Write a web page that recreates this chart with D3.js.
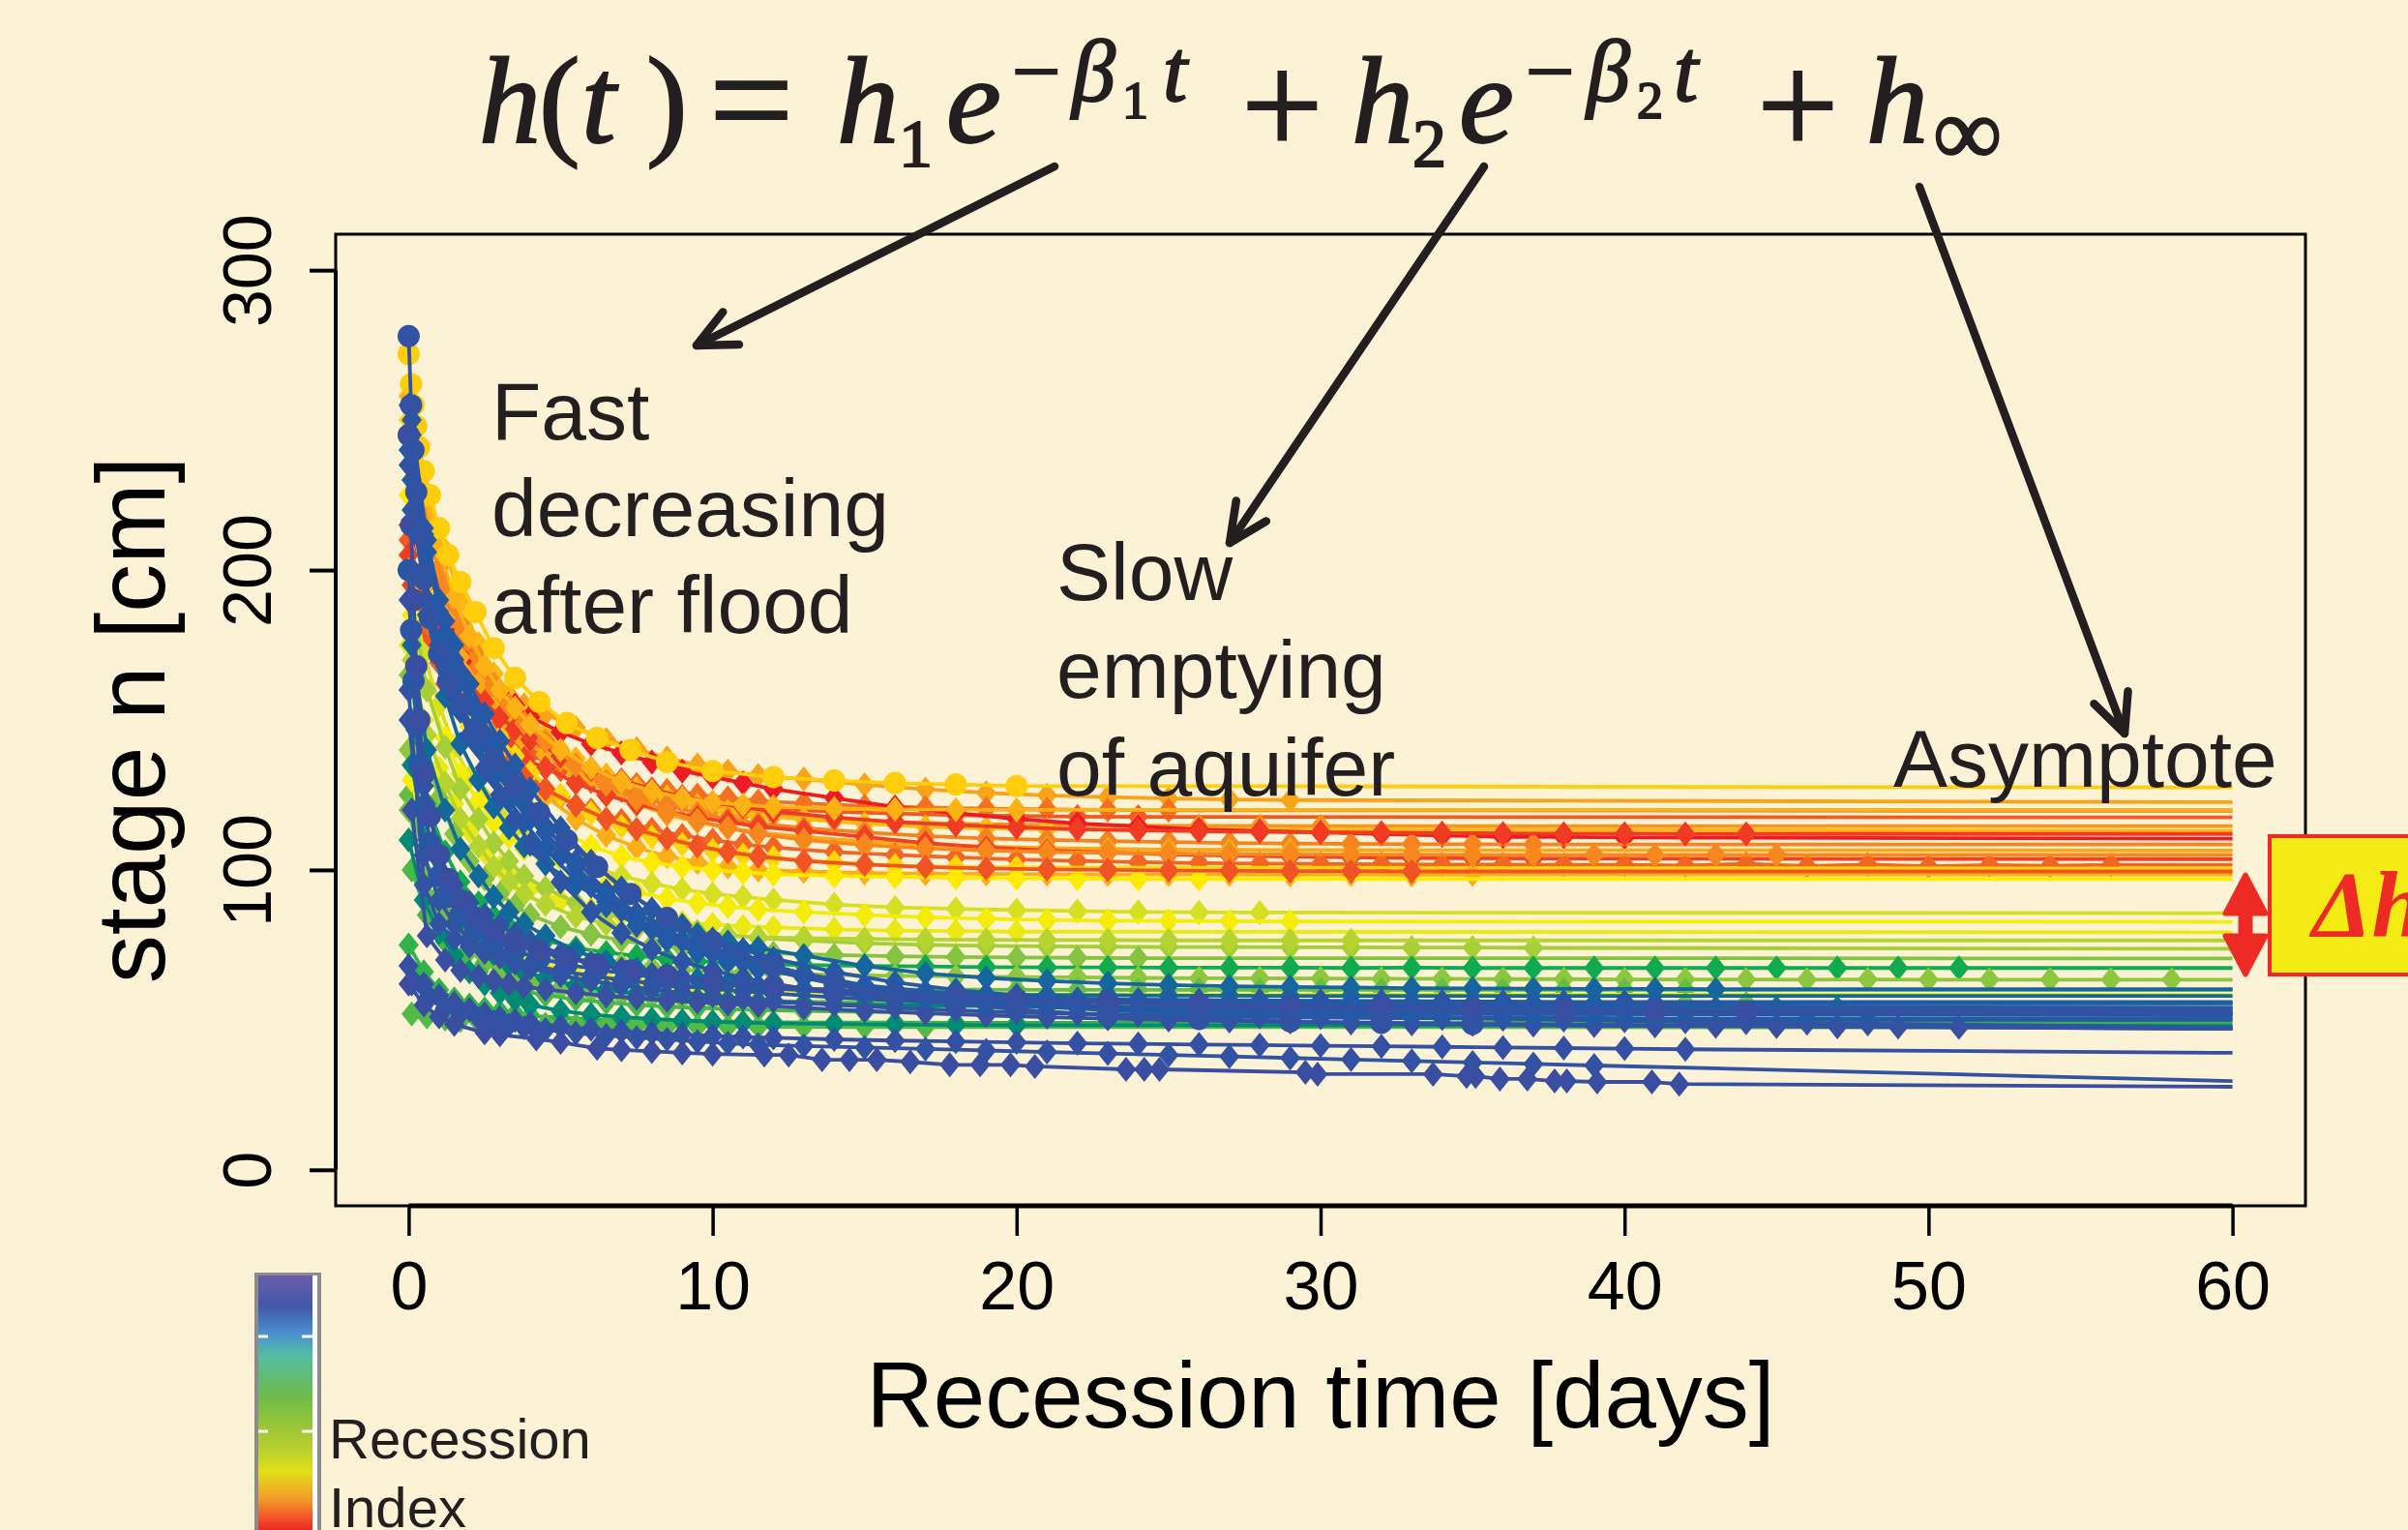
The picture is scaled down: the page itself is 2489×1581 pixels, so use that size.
<!DOCTYPE html>
<html>
<head>
<meta charset="utf-8">
<script src="https://cdn.jsdelivr.net/npm/d3@7"></script>
<style>
  html, body { margin: 0; padding: 0; background: #fcf2d5; }
  svg { display: block; }
</style>
</head>
<body>
<svg id="chart" width="2489" height="1581"></svg>
<script>
// ---------- observation times (days since flood peak) ----------
const dayGridA = [0,0.5,1,1.5,2,2.5,3,3.5,4,5,6,7,8,9,10,11,12,14,16,18,20,22,24,26,28,30,32,34,36,38,40,42,44,46,48,50,52,54,56,58];
const dayGridB = [0.1,0.6,1.2,1.7,2.3,2.8,3.3,3.8,4.5,5.5,6.5,7.5,8.5,9.5,10.5,11.5,13,15,17,19,21,23,25,27,29,31,33,35,37,39,41,43,45,47,49,51,53,55,57,59];
const dayGridC = [0,0.08,0.16,0.25,0.35,0.5,0.7,1,1.3,1.7,2.2,2.8,3.5,4.3,5.2,6.2,7.3,8.5,10,12,14,16,18,20,23,26,29,32,35,38,41,44,47,50,53,56,59];
const dayGridD = [0,0.5,1,1.5,2.5,3,4.2,5,6.2,7,8,9,10,11.7,12.5,13.6,14.5,15.4,16.5,17.8,18.8,19.8,20.6,23.6,24.2,24.7,29.5,29.9,33.7,34.8,35.1,35.9,36.8,37.7,38.1,39.1,40.9,41.8];

// ---------- recession events ----------
// recession index of each event (0 = red end, 1 = blue end of the colour bar)
const recessionIndex = [
  0.24, 0.14, 0.10, 0.20, 0.30, 0.00, 0.17, 0.25, 0.06, 0.12, 0.34, 0.27, 0.37, 0.05, 0.18, 0.28, 0.09, 0.33,
  0.46, 0.40, 0.42, 0.52, 0.50, 0.56, 0.70, 0.55, 0.60, 0.40, 0.58, 0.63, 0.66, 0.62,
  0.80, 0.78,
  0.86, 0.85, 0.95, 0.96, 0.97, 0.99, 0.98, 0.97, 1.00, 0.91, 0.94, 0.90, 0.95, 0.90, 0.92, 0.93, 1.00, 0.97
];
// which time grid each event was sampled on
const gridOfSeries = [
  "B","B","A","A","B","A","B","B","B","A","A","B","A","A","B","A","B","C",
  "A","B","A","B","B","A","B","A","A","B","A","B","A","B",
  "B","A",
  "B","B","A","A","A","B","A","B","D","A","B","B","A","B","A","C","C","C"
];
// observed stage [cm]
const stageObs = [
  [200,188.4,179.9,172.9,166.7,162.1,158.2,155.1,152,147.4,143.5,140.4,137.3,135,133,131.5,130.3,128.4,126.9,125.7,124.9,124.3,123.8,123.5,123.3],
  [230,205,188,175,165,157,151,146,141,135.5,131.5,128.5,126.5,125,124,123,122.2,121.3,120.8,120.4,120.2,120,119.9],
  [210,190,176,165,157,151,146,142,138.5,133.5,129.5,126.5,124.5,123,122,121,120.3,119.4,118.8,118.3,118,117.8,117.7],
  [245,217.6,200.7,185,172,162.8,155,149.8,144.6,136.8,131.6,127.6,125,122.4,120.5,119.2,118.3,116.8,115.9,115.4,115.1,114.9,114.8,114.7,114.7,114.6],
  [255,225,206.7,189.7,175.5,165.5,157,151.3,145.7,137.1,131.5,127.2,124.4,121.5,119.4,118,117,115.4,114.4,113.9,113.6],
  [215,200,188,178,170,164,159,155,151,146,142,139,136,133,131,129,127,124,121,119,117,115.5,114.5,113.5,113,112.5,112,111.5,111,111,110.8],
  [225,205,190,178,168,160,153,147,142,135,129.5,125,121.5,119,117,115.5,114,112.5,111.3,110.5,110,109.6,109.3,109,108.8,108.7,108.6,108.6,108.5],
  [215,196,182,171,162,154,148,143,138.5,132,126.5,122,118.5,116,114,112.5,111,109.5,108.5,107.8,107.3,107,106.8,106.7,106.6],
  [195,180,168,159,152,146,141,137,134,129,125,122,119.5,117.5,116,114.5,113,111,109,107.5,106.5,105.8,105.2,104.8,104.5,104.2,104,103.9,103.8],
  [200,182,169,158,150,143,138,134,130,124.5,120,116.5,113.5,111.5,110,108.5,107.5,106,105,104.2,103.5,103,102.6,102.3,102.1,102,101.9,101.8,101.8,101.7,101.7,101.5,102,101.3,101.8,101.2,101.6,101.4,101.7],
  [250,214,192,175,162,152,144,138,132.5,125,119,114.5,111,108.5,106.5,105,104,102.5,101.5,101,100.8],
  [240,206,184,167,154,144,136,130,124.5,117,111.5,107.5,104.5,102.5,101,100,99.5,99,98.8,98.7,98.6,98.5,98.5,98.5,98.4,98.5,98.4,98.5],
  [225,195,175,160,148,139,131,125,120,113,108,104.5,102.5,101,100,99.2,98.6,98,97.7,97.4,97.2,97.1,97,97],
  [205,190,178,169,162,156,151,147,143.5,138,133.5,130,127,124.5,122.5,121,119.5,117.5,116,115,114.2,113.6,113.2,112.9,112.7,112.5,112.4,112.3,112.2,112.1,112.1,112,112],
  [235,212,195,182,171,162,155,149,143,135,128.5,123.5,119.5,116.5,114,112,110,108.3,107.2,106.5,106,105.7,105.5,105.3,105.2,105.1,105.1,105,105,105,105,105,105],
  [258,226,207,191,178,168,160,154,148.5,140,134,129.5,126.3,124,122.6,121.7,121.1,120.5,120.2,120.1,120],
  [190,174,162,153,146,140,135,131,127,121.5,117,113.5,110.5,108,106,104.5,103,101.8,101,100.5,100.2,100,99.8,99.7,99.6,99.6,99.5],
  [272,262,255,248,241,233,225,214,205,196,186,174,164,156,149,144,140,136,133,131,129.8,129,128.5,128],
  [200,172,155,141,131,124,118,114,110,105,101,98,95.5,93.5,92,91,90,88.5,87.5,87,86.6,86.3,86,85.9,85.8],
  [185,160,144,132,123,116,111,107,103.5,98.5,95,92.5,90.5,89,87.8,86.8,86,85,84.2,83.7,83.3,83.1,83,82.9,82.8],
  [175,150,134,122,113,106,101,97,94,90,87,85,83.5,82.5,81.8,81.2,80.8,80.2,79.8,79.6,79.4],
  [190,160,141,127,117,109,103,98,94,89,85.5,83,81,79.5,78.3,77.3,76.5,75.6,75,74.7,74.5,74.4,74.3,74.3,74.2,74.2,74.1,74.1,74],
  [170,145,129,117,108,101,96,92,88.5,84.5,82,80.3,79.2,78.5,78,77.6,77.3,77,76.8,76.7,76.6,76.6,76.5,76.5,76.5,76.5],
  [165,140,124,112,103,97,92,88,85,81,78.5,76.5,75,74,73.2,72.6,72.2,71.6,71.2,71,70.8,70.7,70.6],
  [150,122,106,96,89,84.5,81,78.5,76.5,74,72.5,71.3,70.4,69.6,69,68.6,68.3,68,67.8,67.6,67.5,67.5,67.4,67.4,67.4,67.3,67.4,67.3,67.3,67.3,67.3,67.3,67.3,67.3,67.3,67.3],
  [140,118,104,95,88,83,79,76,74,71,69.5,68.3,67.4,66.7,66.2,65.8,65.5,65,64.7,64.5,64.3,64.2,64,63.9,63.9,63.8,63.7,63.7,63.6,63.6,63.5,63.5,63.5,63.4,63.5,63.4,63.4,63.4,63.4,63.4],
  [125,105,92,84,78.5,74.5,71.5,69,67,64.5,63,62,61.3,60.9,60.6,60.4,60.3,60.2,60.1,60.1,60,60,60,60,60,60,60,60,60,60,60,60],
  [130,108,95,86,80,75.5,72,69.5,67.5,65,63.5,62.3,61.3,60.5,60,59.6,59.3,59,58.8,58.6,58.5],
  [120,98,86,78,73,69,66,64,62.5,60.5,59.2,58.3,57.7,57.2,56.8,56.5,56.3,56,55.9,55.8,55.7,55.6,55.6,55.5,55.6,55.5,55.5,55.5,55.5,55.5,55.5,55.5,55.5],
  [100,85,76,70,66,63,61,59.5,58.3,56.8,55.8,55,54.4,54,53.6,53.3,53,52.7,52.5,52.3,52.2,52.1,52.1,52],
  [75,66,60,57,55,53.7,52.7,52,51.4,50.7,50.2,49.9,49.7,49.5,49.4,49.3,49.2,49.1,49.1,49,49],
  [52,51,50.3,49.8,49.4,49.1,48.9,48.7,48.5,48.3,48.1,48,47.9,47.8,47.8,47.7,47.7,47.6,47.6],
  [135,108,93,83,76.5,72,68.5,66,64,61.5,60,58.8,57.8,57,56.4,56,55.6,55.1,54.8,54.6,54.5,54.4,54.3,54.2,54.2,54.1,54.1,54.1,54,54,54,54,54,54],
  [110,90,79,71.5,66,62,59,56.8,55,53,51.8,51,50.3,49.8,49.4,49.1,48.9,48.6,48.4,48.3,48.2],
  [230,185,158,142,130,121,114,108,102,95,89.5,85,81.5,78.5,76,74,71.5,68,65.5,64,63,62.2,61.6,61.2,61,60.8,60.6,60.5,60.4,60.3,60.3,60.2],
  [175,140,120,107,98,91,86,82,78,73,69.5,67,65,63.5,62.3,61.4,60.4,59.4,58.8,58.5,58.3,58.2,58.1,58.1,58,58],
  [190,128,105,95,89,85,81.5,78.5,76,72,69,67,65.3,64,62.8,61.8,61,59.5,58.5,57.8,57.3,57,56.8,56.6,56.5,56.4,56.3,56.2,56.1,56,56],
  [160,95,82,77,74.5,72.5,71,69.5,68.3,66.3,64.7,63.3,62.2,61.2,60.3,59.5,58.8,57.5,56.5,55.6,54.8,54,53.3,52.7,52.1,51.6,51.1,50.7,50.3,50,49.7,49.4,49.1,48.9,48.7],
  [150,105,90,82,77,73.5,71,69,67.3,64.8,63,61.5,60.2,59,58,57.1,56.3,55,54,53.2,52.5,52,51.6,51.3,51,50.8,50.6,50.5,50.4,50.3,50.2,50.2,50.1,50.1,50],
  [120,78,70,66.5,64.5,63,62,61,60.2,59,58,57.2,56.5,55.9,55.3,54.8,54,53,52.2,51.5,50.9,50.4,50,49.6,49.3,49,48.7,48.5,48.3,48.1,48,47.9,47.8,47.7,47.6,47.5],
  [68,62,58,55.5,53.5,52,50.8,49.8,49,47.8,46.9,46.2,45.6,45.1,44.7,44.3,44,43.5,43.1,42.8,42.5,42.2,42,41.8,41.6,41.4,41.2,41,40.8,40.6,40.4,40.2],
  [62,57,54,52,50.5,49.3,48.3,47.4,46.7,45.6,44.8,44.1,43.5,42.8,42.2,41.7,41.3,40.8,40.3,39.8,39.3,38.8,38.3,37.8,37.3,36.8,36.3,35.8,35.3,34.8],
  [62,55,51,48.5,45.7,45,43.7,42.5,40.5,40,39.5,39,38.6,38.3,38.3,36.7,36.7,36.7,36,35,35,35,34.5,33.5,33.5,33.5,32.5,31.9,31.9,31.2,31.2,30.3,30.3,29.6,29.6,29.3,29.3,28.6],
  [240,212,190,175,162,152,143,135,127,114,103,94,87,81.5,77,73.5,70.5,66,62.5,60,58.2,56.8,55.8,55,54.4,54,53.6,53.3,53,52.8],
  [250,210,183,166,152,142,132,124,114.5,103,93,85.5,79.5,75.5,72,69,65.5,61.5,58.7,56.7,55.5,54.4,53.7,53.1,52.7,52.4,52.2,52],
  [220,190,168,153,141,131,123,116,107,96.5,88,81.5,76.5,72.5,69.5,67,64.5,61.5,59.5,58.2,57.4,56.8,56.4,56.1,55.9,55.8,55.7,55.6,55.6,55.5,55.5],
  [235,200,175,158,145,134,125,117,108.5,96,86,79,73.5,69.5,66.5,64,62,59,57,55.8,55,54.4,54,53.7,53.5,53.3,53.2,53.1],
  [245,206,179,163,149.5,139.5,130,122,112.5,101,91.5,84,78,74,70.5,67.5,64,60,57.5,55.5,54.3,53.2,52.5,52,51.6,51.3,51,50.8,50.7,50.6,50.5],
  [255,214,186,170,155.5,145.4,135.2,127.1,117,104.8,94.6,86.5,80.4,76.4,72.3,69.3,66.6,62.2,59.3,57.3,56.1,54.8,54,53.4,53,52.6,52.4,52.2,52.1,52],
  [200,180,163,148,135,121,109,98,91,85,80,76,73,70.5,68.5,66.8,65.2,63.8,62.2,60.5,59.2,58.2,57.4,56.8,56,55.4,55,54.7],
  [245,215,190,168,150,132,118,105,97,90,84,79.5,76,73,70.5,68.5,66.5,64.8,63,61.2,59.8,58.6,57.6,56.8,55.8,55,54.4,53.9,53.5,53.2,53,52.8],
  [278,255,240,226,212,197,184,172,163,155,146,137,128,119,110,101,92,84,76,68,62.5,58.5,55.5,53.5,51.5,50.3,49.5,49,48.6]
];
// fitted asymptote h_inf [cm], reached at the end of the 60-day window
const stageDay60 = [
  122.6, 119.7, 117.5, 114.6, 113, 110.4, 108.5, 106.5, 103.6, 101.7, 100.4, 98.5, 97, 112, 105, 120, 99.5, 127.5,
  85.6, 82.7, 79.2, 73.7, 76.5, 70.5, 67.3, 63.4, 60, 58.3, 55.5, 52, 49, 47.5,
  54, 48,
  60.2, 58, 56, 47.5, 50, 47, 39, 29.6, 27.7, 52, 51.5, 55.5, 53, 50.5, 52, 54, 52.3, 47
];

// ---------- axes and colour bar ----------
const xTicks = [0, 10, 20, 30, 40, 50, 60];
const yTicks = [0, 100, 200, 300];
const indexStops  = [0, 0.1, 0.2, 0.3, 0.38, 0.46, 0.55, 0.65, 0.72, 0.8, 0.88, 1];
const indexColors = ["#ed1c24","#f15a24","#f7941d","#fdb913","#fff200","#d7df23","#8dc63f","#39b54a","#00a651","#00827f","#1c5ca8","#3a4ea1"];
const legendStops  = [0, 0.12, 0.22, 0.3, 0.47, 0.66, 0.75, 0.86, 0.97];
const legendColors = ["#6b5ba9","#4259a8","#4a8fd0","#52bca6","#72bb48","#b8cf2e","#e2e01a","#f4962a","#ee2a24"];

// ---------- drawing ----------
const svg = d3.select("#chart");
const ink = "#231f20";
const sans = "'Liberation Sans', Arial, Helvetica, sans-serif";
const serif = "'Liberation Serif', 'Times New Roman', serif";

const box = { left: 347, right: 2383, top: 242, bottom: 1246 };
const x = d3.scaleLinear().domain([-2.4, 62.4]).range([box.left, box.right]);
const y = d3.scaleLinear().domain([-12, 312]).range([box.bottom, box.top]);
const color = d3.scaleLinear().domain(indexStops).range(indexColors).interpolate(d3.interpolateRgb);
const grids = { A: dayGridA, B: dayGridB, C: dayGridC, D: dayGridD };

svg.append("rect").attr("width", 2489).attr("height", 1581).attr("fill", "#fcf2d5");

// recession curves: observations joined by a line, continued to the asymptote at day 60
const plot = svg.append("g");
const line = d3.line().x(d => x(d[0])).y(d => y(d[1]));
const diamond = "M0,-13L10.5,0L0,13L-10.5,0Z";

stageObs.forEach((vals, i) => {
  const days = grids[gridOfSeries[i]];
  const pts = vals.filter((v, j) => j < days.length).map((v, j) => [days[j], v]);
  const c = color(recessionIndex[i]);
  const g = plot.append("g");
  g.append("path")
    .datum(pts.concat([[60, stageDay60[i]]]))
    .attr("d", line)
    .attr("fill", "none")
    .attr("stroke", c)
    .attr("stroke-width", 3.8)
    .attr("stroke-linejoin", "round");
  if (gridOfSeries[i] === "C") {
    g.selectAll("circle").data(pts).join("circle")
      .attr("cx", d => x(d[0])).attr("cy", d => y(d[1])).attr("r", 11.5).attr("fill", c);
  } else {
    g.selectAll("path.pt").data(pts).join("path").attr("class", "pt")
      .attr("transform", d => `translate(${x(d[0])},${y(d[1])})`)
      .attr("d", diamond).attr("fill", c);
  }
});

// frame
svg.append("rect")
  .attr("x", box.left).attr("y", box.top)
  .attr("width", box.right - box.left).attr("height", box.bottom - box.top)
  .attr("fill", "none").attr("stroke", "#000").attr("stroke-width", 3);

// x axis
const xAxis = svg.append("g").attr("transform", `translate(0,${box.bottom})`)
  .call(d3.axisBottom(x).tickValues(xTicks).tickSize(31).tickPadding(26).tickFormat(d3.format("d")));
xAxis.select(".domain").remove();
xAxis.selectAll(".tick line").attr("stroke", "#000").attr("stroke-width", 3.5);
xAxis.selectAll("text").attr("fill", "#000").style("font-family", sans).style("font-size", "70px");
xAxis.append("line").attr("x1", x(0)).attr("x2", x(60)).attr("stroke", "#000").attr("stroke-width", 5);

// y axis (labels parallel to the axis)
const yAxis = svg.append("g").attr("transform", `translate(${box.left},0)`)
  .call(d3.axisLeft(y).tickValues(yTicks).tickSize(27).tickFormat(d3.format("d")));
yAxis.select(".domain").remove();
yAxis.selectAll(".tick line").attr("stroke", "#000").attr("stroke-width", 4);
yAxis.selectAll("text")
  .attr("transform", "rotate(-90)")
  .attr("x", 0).attr("y", -67).attr("dy", null)
  .attr("text-anchor", "middle")
  .attr("fill", "#000").style("font-family", sans).style("font-size", "70px");
yAxis.append("line").attr("y1", y(0)).attr("y2", y(300)).attr("stroke", "#000").attr("stroke-width", 4);

// axis titles
svg.append("text").attr("x", (box.left + box.right) / 2).attr("y", 1475)
  .attr("text-anchor", "middle").attr("fill", "#000")
  .style("font-family", sans).style("font-size", "96px")
  .text("Recession time [days]");
svg.append("text").attr("transform", `translate(170,${(box.top + box.bottom) / 2}) rotate(-90)`)
  .attr("text-anchor", "middle").attr("fill", "#000")
  .style("font-family", sans).style("font-size", "100px")
  .text("stage n [cm]");

// model equation
const eq = svg.append("g").attr("fill", ink).attr("stroke", ink).attr("stroke-width", 2)
  .style("font-family", serif);
const eqParts = [
  ["h", 495, 147, 128, true], ["(", 557, 147, 128, false], ["t", 601, 147, 128, true], [")", 668, 147, 128, false],
  ["=", 733, 155, 155, false],
  ["h", 865, 147, 128, true], ["1", 929, 172, 70, false], ["e", 978, 147, 128, true],
  ["\u2212", 1046, 104, 90, false], ["\u03B2", 1108, 104, 90, true], ["1", 1160, 122, 54, false], ["t", 1202, 104, 90, true],
  ["+", 1283, 159, 150, false],
  ["h", 1397, 147, 128, true], ["2", 1460, 172, 70, false], ["e", 1508, 147, 128, true],
  ["\u2212", 1577, 104, 90, false], ["\u03B2", 1640, 104, 90, true], ["2", 1692, 122, 54, false], ["t", 1730, 104, 90, true],
  ["+", 1816, 159, 150, false],
  ["h", 1929, 147, 128, true], ["\u221E", 1998, 170, 100, false]
];
eqParts.forEach(([s, px, py, fs, it]) => {
  eq.append("text").attr("x", px).attr("y", py)
    .style("font-size", fs + "px").style("font-style", it ? "italic" : "normal").text(s);
});

// arrows from the equation terms
function arrow(x1, y1, x2, y2) {
  const a = Math.atan2(y1 - y2, x1 - x2), len = 44, spread = 0.44;
  const g = svg.append("g").attr("stroke", ink).attr("stroke-width", 8.5)
    .attr("stroke-linecap", "round").attr("fill", "none");
  g.append("line").attr("x1", x1).attr("y1", y1).attr("x2", x2).attr("y2", y2);
  g.append("path").attr("stroke-linejoin", "round").attr("d",
    `M${x2 + len * Math.cos(a + spread)},${y2 + len * Math.sin(a + spread)}L${x2},${y2}L${x2 + len * Math.cos(a - spread)},${y2 + len * Math.sin(a - spread)}`);
}
arrow(1090, 172, 720, 357);
arrow(1534, 172, 1271, 561);
arrow(1984, 193, 2196, 758);

// annotations
function lines(txts, px, py, step) {
  const t = svg.append("text").attr("fill", ink).style("font-family", sans).style("font-size", "84px");
  txts.forEach((s, k) => t.append("tspan").attr("x", px).attr("y", py + k * step).text(s));
}
lines(["Fast", "decreasing", "after flood"], 508, 454, 100);
lines(["Slow", "emptying", "of aquifer"], 1092, 620, 101);
lines(["Asymptote"], 1957, 813, 0);

// spread of asymptotes: double arrow and label
const red = "#ee2a24";
const ax = 2321;
svg.append("path")
  .attr("d", `M${ax},904L${ax + 21},944L${ax + 5},944L${ax + 5},967L${ax + 21},967L${ax},1007L${ax - 21},967L${ax - 5},967L${ax - 5},944L${ax - 21},944Z`)
  .attr("fill", red).attr("stroke", red).attr("stroke-width", 5).attr("stroke-linejoin", "round");
svg.append("rect").attr("x", 2346).attr("y", 864).attr("width", 200).attr("height", 143)
  .attr("fill", "#f4ea14").attr("stroke", red).attr("stroke-width", 4);
svg.append("text").attr("x", 2390).attr("y", 968).attr("fill", red)
  .style("font-family", serif).style("font-size", "98px").style("font-weight", "bold").style("font-style", "italic")
  .text("\u0394h");

// colour bar legend
const defs = svg.append("defs");
const grad = defs.append("linearGradient").attr("id", "ribar").attr("x1", 0).attr("y1", 0).attr("x2", 0).attr("y2", 1);
legendStops.forEach((s, k) => grad.append("stop").attr("offset", s).attr("stop-color", legendColors[k]));
svg.append("rect").attr("x", 263).attr("y", 1315).attr("width", 69).attr("height", 280).attr("fill", "#8c8c8c");
svg.append("rect").attr("x", 267).attr("y", 1318).attr("width", 56).attr("height", 270).attr("fill", "url(#ribar)");
svg.append("rect").attr("x", 323).attr("y", 1318).attr("width", 5).attr("height", 270).attr("fill", "#ffffff");
[1381, 1479].forEach(ty => {
  svg.append("line").attr("x1", 267).attr("x2", 277).attr("y1", ty).attr("y2", ty).attr("stroke", "#fff").attr("stroke-width", 3);
  svg.append("line").attr("x1", 312).attr("x2", 323).attr("y1", ty).attr("y2", ty).attr("stroke", "#fff").attr("stroke-width", 3);
});
const lg = svg.append("text").attr("fill", ink).style("font-family", sans).style("font-size", "58px");
lg.append("tspan").attr("x", 340).attr("y", 1507).text("Recession");
lg.append("tspan").attr("x", 340).attr("y", 1578).text("Index");
</script>
</body>
</html>
